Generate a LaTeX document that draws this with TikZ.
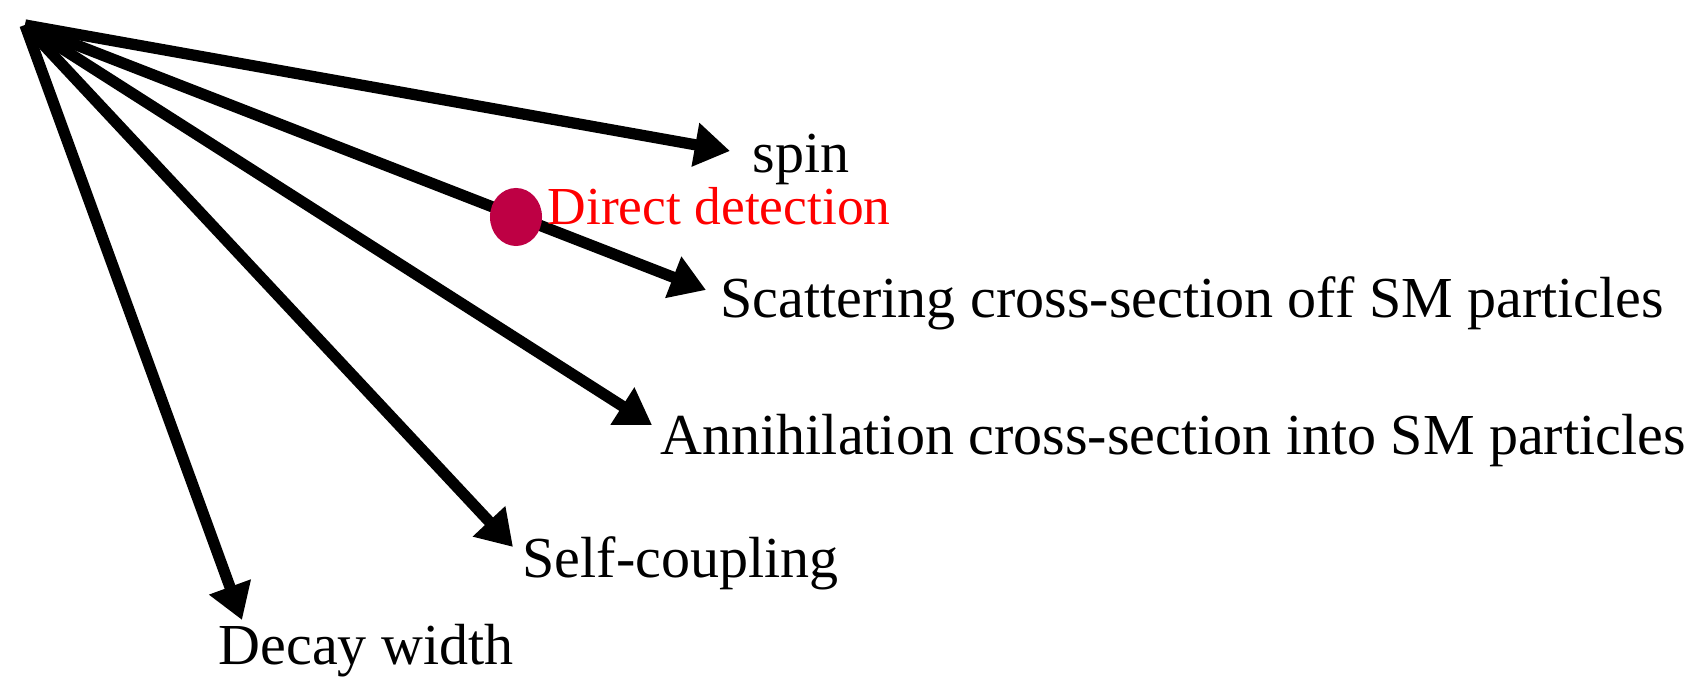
\documentclass[tikz,border=0pt]{standalone}
\usepackage{fontspec}
\setmainfont{Liberation Serif}
\usetikzlibrary{arrows.meta}

\definecolor{dotred}{RGB}{190,0,68}

\tikzset{
  prop/.style={line width=3.2pt,-{Triangle[length=10pt,width=12pt]}},
  proptext/.style={anchor=base west,inner sep=0pt,font=\fontsize{16.5}{20}\selectfont},
}

\begin{document}
\begin{tikzpicture}[x=0.01cm,y=-0.01cm]
    \useasboundingbox (0,0) rectangle (1699,677);
    \coordinate (O) at (25,25);
    % arrow ends
    \coordinate (Tspin) at (730,151);
    \coordinate (Tscat) at (706,290);
    \coordinate (Tann)  at (652,425);
    \coordinate (Tself) at (513,547);
    \coordinate (Tdec)  at (242,620);
    \draw[prop] (O) -- (Tspin);
    \draw[prop] (O) -- (Tscat);
    \draw[prop] (O) -- (Tann);
    \draw[prop] (O) -- (Tself);
    \draw[prop] (O) -- (Tdec);
    % properties
    \node[proptext] (spin) at (752,173) {spin};
    \node[proptext] (scat) at (720,318) {Scattering cross-section off SM particles};
    \node[proptext] (ann)  at (660,455) {Annihilation cross-section into SM particles};
    \node[proptext] (self) at (522,578) {Self-coupling};
    \node[proptext] (dec)  at (218,665) {Decay width};
    % direct detection marker
    \coordinate (dd) at (516,217);
    \fill[dotred] (dd) ellipse [x radius=0.26cm,y radius=0.29cm];
    \node[proptext,font=\fontsize{15.2}{18}\selectfont,text=red] (ddtext) at (547,225) {Direct detection};
\end{tikzpicture}
\end{document}
